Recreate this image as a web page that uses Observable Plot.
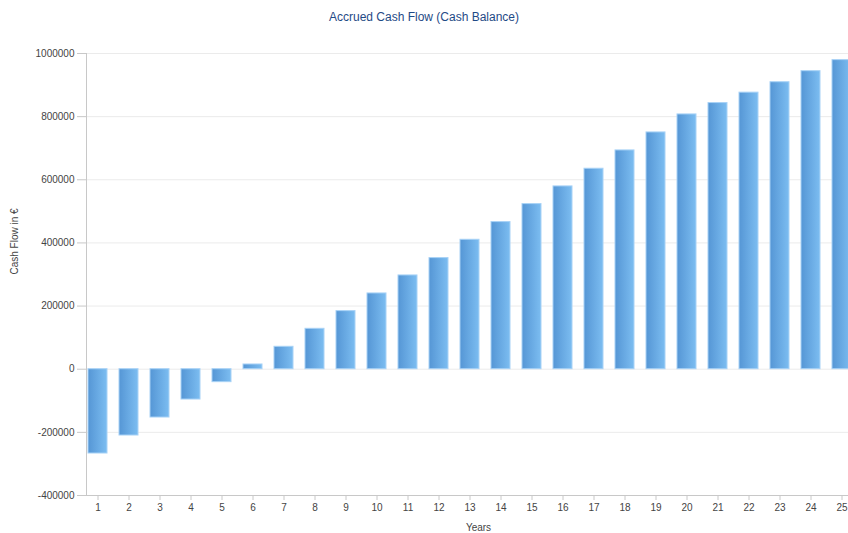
<!DOCTYPE html>
<html>
<head>
<meta charset="utf-8">
<script src="https://cdn.jsdelivr.net/npm/d3@7"></script>
<script src="https://cdn.jsdelivr.net/npm/@observablehq/plot@0.6"></script>
<style>
  html, body { margin: 0; padding: 0; background: #fff; overflow: hidden; width: 848px; height: 533px; }
  #title { height: 34px; line-height: 34px; text-align: center; font-family: "Liberation Sans", Arial, sans-serif; font-size: 12px; color: #1f4a86; }
  #chart { width: 848px; overflow: hidden; }
  #chart svg { display: block; max-width: none !important; width: 870px !important; height: 499px !important; }
</style>
</head>
<body>
<div id="title">Accrued Cash Flow (Cash Balance)</div>
<div id="chart"></div>
<script>
const years = ["1","2","3","4","5","6","7","8","9","10","11","12","13","14","15","16","17","18","19","20","21","22","23","24","25"];
const balance = [-267000, -210000, -153000, -96000, -41000, 15000, 71000, 128000, 184000, 240000, 297000, 352000, 410000, 466000, 523000, 579000, 635000, 693000, 750000, 807000, 843000, 876000, 909000, 944000, 979000];
const yTicks = [-400000, -200000, 0, 200000, 400000, 600000, 800000, 1000000];

const data = years.map((y, i) => ({year: y, value: balance[i]}));

const chart = Plot.plot({
  width: 870,
  height: 499,
  marginLeft: 86,
  marginRight: 0,
  marginTop: 19,
  marginBottom: 38,
  style: {fontFamily: "Liberation Sans, Arial, sans-serif", fontSize: "10px", color: "#444", background: "#fff", maxWidth: "none"},
  x: {type: "band", domain: years, range: [82.3, 857.3], paddingInner: 0.387, paddingOuter: 0.1935, label: null},
  y: {domain: [-400000, 1000000], label: null},
  marks: [
    Plot.gridY(yTicks, {stroke: "#ebebeb", strokeOpacity: 1}),
    Plot.barY(data, {x: "year", y: "value", fill: "url(#barGrad)", stroke: "#a8d2f6", strokeWidth: 1}),
    Plot.ruleY([-400000], {stroke: "#c8c8c8"}),
    Plot.frame({anchor: "left", stroke: "#c8c8c8"}),
    Plot.axisY(yTicks, {tickSize: 9, tickPadding: 3, tickFormat: d => String(d), stroke: "#c8c8c8", fill: "#444", label: null}),
    Plot.axisX({tickSize: 5, tickPadding: 3, stroke: "#c8c8c8", fill: "#444", label: null}),
    Plot.text(["Cash Flow in €"], {frameAnchor: "left", rotate: -90, dx: -72, fill: "#444", fontSize: 10}),
    Plot.text(["Years"], {frameAnchor: "bottom", dy: 35, fill: "#444", fontSize: 10})
  ]
});

const ns = "http://www.w3.org/2000/svg";
const defs = document.createElementNS(ns, "defs");
defs.innerHTML = '<linearGradient id="barGrad" x1="0" y1="0" x2="1" y2="0">' +
  '<stop offset="0" stop-color="#5596d5"/>' +
  '<stop offset="1" stop-color="#7cbdf1"/>' +
  '</linearGradient>';
chart.insertBefore(defs, chart.firstChild);
document.getElementById("chart").appendChild(chart);
</script>
</body>
</html>
